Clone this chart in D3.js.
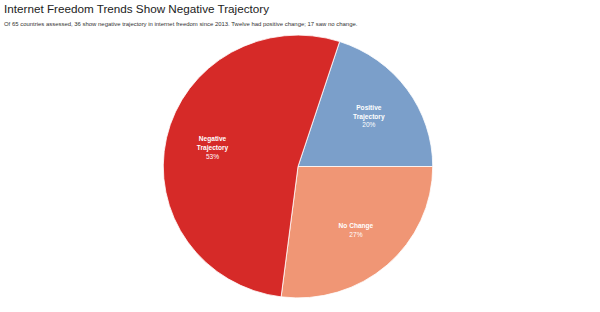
<!DOCTYPE html>
<html><head><meta charset="utf-8">
<script src="https://cdn.jsdelivr.net/npm/d3@7"></script>
<style>body{margin:0;background:#fff;} svg{display:block;font-family:"Liberation Sans",Arial,sans-serif;}</style>
</head><body>
<svg id="c" width="600" height="312"></svg>
<script>
const categories = ["Positive Trajectory", "No Change", "Negative Trajectory"];
const labelLines = [["Positive","Trajectory"],["No Change"],["Negative","Trajectory"]];
const values = [20, 27, 53];
const colors = ["#7b9fca", "#f09675", "#d62a28"];
const title = "Internet Freedom Trends Show Negative Trajectory";
const subtitle = "Of 65 countries assessed, 36 show negative trajectory in internet freedom since 2013. Twelve had positive change; 17 saw no change.";

const svg = d3.select("#c");
svg.append("text").attr("x",4).attr("y",13).attr("font-size",11.7).attr("fill","#222").text(title);
svg.append("text").attr("x",4).attr("y",26).attr("font-size",5.95).attr("fill","#333").text(subtitle);

const cx = 298, cy = 166.5, R = 133;
const data = categories.map((c,i)=>({c, v:values[i], lines:labelLines[i], col:colors[i]}));
const start = 18*Math.PI/180;
const pie = d3.pie().value(d=>d.v).sort(null).startAngle(start).endAngle(start+2*Math.PI);
const arcs = pie(data);
const arc = d3.arc().innerRadius(0).outerRadius(R);
const labelArc = d3.arc().innerRadius(R*0.65).outerRadius(R*0.65);
const g = svg.append("g").attr("transform",`translate(${cx},${cy}) scale(1.013,0.988)`);
g.selectAll("path").data(arcs).join("path").attr("d",arc).attr("fill",d=>d.data.col).attr("stroke","#fff").attr("stroke-width",0.8);
const lg = g.selectAll("g.l").data(arcs).join("g").attr("class","l")
  .attr("transform",d=>`translate(${labelArc.centroid(d)})`);
lg.each(function(d){
  const lines = d.data.lines.concat([Math.round(d.data.v)+"%"]);
  const n = lines.length, lh = 9;
  const t = d3.select(this).append("text").attr("text-anchor","middle").attr("fill","#fff").attr("font-size",6.5);
  lines.forEach((s,i)=>{
    t.append("tspan").attr("x",0).attr("y",(i-(n-1)/2)*lh+2.3).attr("font-weight", i<n-1?"bold":"normal").text(s);
  });
});
</script>
</body></html>
